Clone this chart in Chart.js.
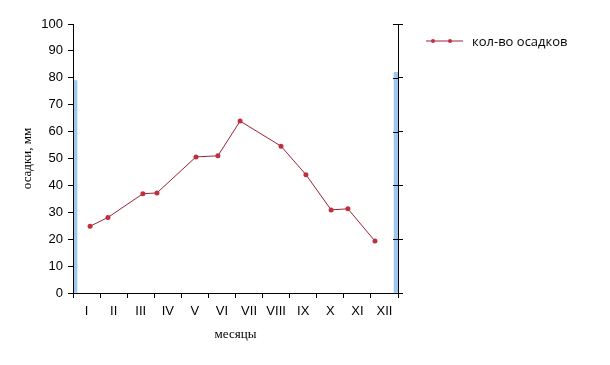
<!DOCTYPE html>
<html>
<head>
<meta charset="utf-8">
<script src="https://cdn.jsdelivr.net/npm/chart.js@4.4.0/dist/chart.umd.min.js"></script>
<style>
  html, body { margin: 0; padding: 0; background: #fff; }
  #wrap { position: relative; width: 610px; height: 365px; }
  #legend { position: absolute; left: 426px; top: 31px; height: 20px; display: flex; align-items: center;
            font-family: "Open Sans", "Liberation Sans", sans-serif; font-size: 13px; color: #000; white-space: nowrap; }
  #legend svg { margin-right: 9px; }
</style>
</head>
<body>
<div id="wrap">
  <canvas id="c" width="610" height="365"></canvas>
  <div id="legend">
    <svg width="37" height="8"><line x1="0" y1="4" x2="37" y2="4" stroke="#9b2233" stroke-width="1"/><circle cx="7" cy="4" r="2" fill="#c0303c"/><circle cx="24" cy="4" r="2" fill="#c0303c"/></svg>
    <span id="legendText"></span>
  </div>
</div>
<script>
// ---- data ----
const months = ['I','II','III','IV','V','VI','VII','VIII','IX','X','XI','XII'];
// position of each reading along the month axis (in months from the start)
const monthPos = [0.63, 1.29, 2.58, 3.10, 4.54, 5.35, 6.17, 7.68, 8.60, 9.53, 10.15, 11.15];
const precip = [24.8, 28.1, 36.9, 37.2, 50.6, 51.0, 63.9, 54.6, 44.0, 30.9, 31.3, 19.3];
// partly visible edge bars
const edgeBarPos = [0, 12];
const edgeBarVals = [79, 82];
const yTicks = { min: 0, max: 100, step: 10 };
const seriesName = 'кол-во осадков';
const xTitle = 'месяцы';
const yTitle = 'осадки, мм';

document.getElementById('legendText').textContent = seriesName;

const lineData = monthPos.map((x, i) => ({ x: x, y: precip[i] }));
const barData = edgeBarPos.map((x, i) => ({ x: x, y: edgeBarVals[i] }));

const crossTicks = {
  id: 'crossTicks',
  afterDraw(chart) {
    const s = chart.scales.y2;
    const ctx = chart.ctx;
    ctx.save();
    ctx.strokeStyle = '#000';
    ctx.lineWidth = 1;
    s.ticks.forEach(t => {
      const y = Math.round(s.getPixelForValue(t.value)) + 0.5;
      ctx.beginPath();
      ctx.moveTo(chart.chartArea.right - 5, y);
      ctx.lineTo(chart.chartArea.right, y);
      ctx.stroke();
    });
    ctx.restore();
  }
};

new Chart(document.getElementById('c'), {
  data: {
    labels: months,
    datasets: [
      {
        type: 'line',
        label: seriesName,
        data: lineData,
        xAxisID: 'xp',
        yAxisID: 'y',
        borderColor: '#9b2233',
        borderWidth: 1,
        pointRadius: 2.5,
        pointBackgroundColor: '#c0303c',
        pointBorderColor: '#c0303c',
        pointBorderWidth: 0,
        tension: 0,
        fill: false,
        order: 1
      },
      {
        type: 'bar',
        label: 'edge',
        data: barData,
        xAxisID: 'xp',
        yAxisID: 'y',
        backgroundColor: '#9fc8ef',
        borderWidth: 0,
        barThickness: 8,
        clip: 0,
        order: 2
      }
    ]
  },
  options: {
    responsive: false,
    animation: false,
    events: [],
    layout: { padding: { top: 24, left: 0, right: 0, bottom: 0 } },
    plugins: { legend: { display: false }, tooltip: { enabled: false } },
    scales: {
      x: {
        type: 'category',
        position: 'bottom',
        offset: true,
        grid: { offset: true, drawOnChartArea: false, drawTicks: true, tickLength: 5, color: '#000', z: 1 },
        border: { color: '#000', width: 1, z: 1 },
        ticks: { color: '#000', font: { family: 'Liberation Sans, Arial, sans-serif', size: 13 }, padding: 6, maxRotation: 0, autoSkip: false },
        title: { display: true, text: xTitle, color: '#000', font: { family: 'Liberation Serif, Times New Roman, serif', size: 13 }, padding: { top: 0, bottom: 23 } },
        afterFit(s) { s.height = 72; }
      },
      xp: {
        type: 'linear',
        display: false,
        min: 0,
        max: 12,
        offset: false
      },
      y: {
        type: 'linear',
        position: 'left',
        min: yTicks.min,
        max: yTicks.max,
        grid: { drawOnChartArea: false, tickLength: 5, color: '#000', z: 1 },
        border: { color: '#000', width: 1, z: 1 },
        ticks: { stepSize: yTicks.step, color: '#000', font: { family: 'Liberation Sans, Arial, sans-serif', size: 13 }, padding: 5 },
        title: { display: true, text: yTitle, color: '#000', font: { family: 'Liberation Serif, Times New Roman, serif', size: 13 }, padding: { top: 20, bottom: 0 } },
        afterFit(s) { s.width = 73; }
      },
      y2: {
        type: 'linear',
        position: 'right',
        min: yTicks.min,
        max: yTicks.max,
        grid: { drawOnChartArea: false, tickLength: 5, color: '#000', z: 1 },
        border: { color: '#000', width: 1, z: 1 },
        ticks: { stepSize: 20, display: false },
        afterFit(s) { s.width = 212; }
      }
    }
  },
  plugins: [crossTicks]
});
</script>
</body>
</html>
